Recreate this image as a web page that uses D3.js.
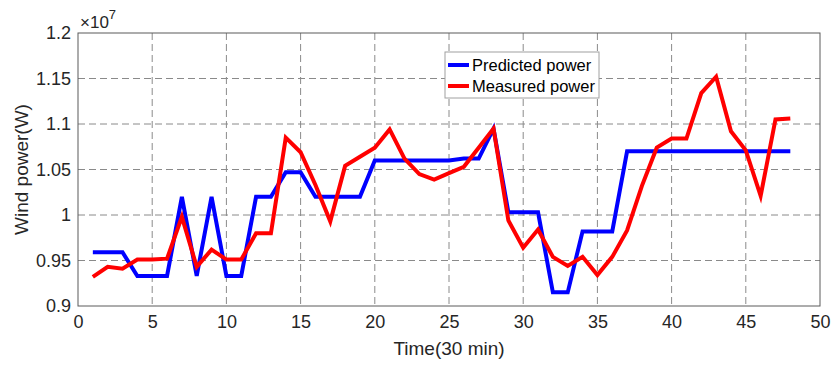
<!DOCTYPE html>
<html>
<head>
<meta charset="utf-8">
<script src="https://cdn.jsdelivr.net/npm/d3@7"></script>
<style>
  html, body { margin: 0; padding: 0; background: #fff; }
  svg { display: block; font-family: "Liberation Sans", Arial, sans-serif; }
</style>
</head>
<body>
<svg id="chart" width="833" height="365"></svg>
<script>
// Time steps (30 min each)
const timeSteps = d3.range(1, 49);

// Power in units of 10^7 W
const predictedPower = [
  0.959, 0.959, 0.959, 0.933, 0.933, 0.933, 1.020, 0.933, 1.020, 0.933,
  0.933, 1.020, 1.020, 1.047, 1.047, 1.020, 1.020, 1.020, 1.020, 1.060,
  1.060, 1.060, 1.060, 1.060, 1.060, 1.062, 1.062, 1.095, 1.003, 1.003,
  1.003, 0.915, 0.915, 0.982, 0.982, 0.982, 1.070, 1.070, 1.070, 1.070,
  1.070, 1.070, 1.070, 1.070, 1.070, 1.070, 1.070, 1.070
];
const measuredPower = [
  0.932, 0.943, 0.941, 0.951, 0.951, 0.952, 0.998, 0.943, 0.962, 0.951,
  0.951, 0.980, 0.980, 1.085, 1.069, 1.033, 0.993, 1.054, 1.064, 1.074,
  1.094, 1.062, 1.045, 1.039, 1.046, 1.053, 1.074, 1.095, 0.994, 0.964,
  0.984, 0.954, 0.944, 0.954, 0.934, 0.954, 0.983, 1.032, 1.074, 1.084,
  1.084, 1.134, 1.152, 1.092, 1.071, 1.021, 1.105, 1.106
];

const xTicks = [0, 5, 10, 15, 20, 25, 30, 35, 40, 45, 50];
const yTicks = [0.9, 0.95, 1.0, 1.05, 1.1, 1.15, 1.2];
const yTickLabels = ["0.9", "0.95", "1", "1.05", "1.1", "1.15", "1.2"];
const seriesNames = ["Predicted power", "Measured power"];
const seriesColors = ["#0000ff", "#ff0000"];

const svg = d3.select("#chart");
const plotL = 78, plotR = 820, plotT = 33, plotB = 306;

const x = d3.scaleLinear().domain([0, 50]).range([plotL, plotR]);
const y = d3.scaleLinear().domain([0.9, 1.2]).range([plotB, plotT]);

// grid
const grid = svg.append("g")
  .attr("stroke", "#8a8a8a")
  .attr("stroke-width", 1)
  .attr("stroke-dasharray", "7,4");
grid.selectAll("line.v").data(xTicks.slice(1, -1)).join("line")
  .attr("class", "v")
  .attr("x1", d => x(d)).attr("x2", d => x(d))
  .attr("y1", plotT).attr("y2", plotB);
grid.selectAll("line.h").data(yTicks.slice(1, -1)).join("line")
  .attr("class", "h")
  .attr("x1", plotL).attr("x2", plotR)
  .attr("y1", d => y(d)).attr("y2", d => y(d));

// axes
const xAxis = d3.axisBottom(x).tickValues(xTicks).tickSize(0).tickPadding(9)
  .tickFormat(d3.format("d"));
const yAxis = d3.axisLeft(y).tickValues(yTicks).tickSize(0).tickPadding(7)
  .tickFormat((d, i) => yTickLabels[i]);

const gx = svg.append("g").attr("transform", `translate(0,${plotB})`).call(xAxis);
const gy = svg.append("g").attr("transform", `translate(${plotL},0)`).call(yAxis);
[gx, gy].forEach(g => {
  g.select(".domain").remove();
  g.selectAll("text").attr("font-size", 18).attr("fill", "#262626")
    .attr("font-family", "Liberation Sans, Arial, sans-serif");
});
gx.selectAll("text").attr("dy", "0.71em");

// frame
svg.append("rect")
  .attr("x", plotL).attr("y", plotT)
  .attr("width", plotR - plotL).attr("height", plotB - plotT)
  .attr("fill", "none").attr("stroke", "#5a5a5a").attr("stroke-width", 1);

// exponent
const expo = svg.append("text").attr("x", plotL + 2).attr("y", 28)
  .attr("font-size", 17).attr("fill", "#262626");
expo.append("tspan").text("×10");
expo.append("tspan").attr("dy", -9).attr("font-size", 13).text("7");

// data lines
const line = d3.line().x((d, i) => x(timeSteps[i])).y(d => y(d));
[predictedPower, measuredPower].forEach((vals, k) => {
  svg.append("path").datum(vals)
    .attr("fill", "none")
    .attr("stroke", seriesColors[k])
    .attr("stroke-width", 4)
    .attr("stroke-linejoin", "miter")
    .attr("d", line);
});

// axis titles
svg.append("text").attr("x", (plotL + plotR) / 2).attr("y", 355)
  .attr("text-anchor", "middle").attr("font-size", 19).attr("fill", "#262626")
  .text("Time(30 min)");
svg.append("text")
  .attr("transform", `translate(28,${(plotT + plotB) / 2}) rotate(-90)`)
  .attr("text-anchor", "middle").attr("font-size", 19).attr("fill", "#262626")
  .text("Wind power(W)");

// legend
const lg = svg.append("g");
lg.append("rect").attr("x", 445).attr("y", 52).attr("width", 154).attr("height", 46)
  .attr("fill", "#fff").attr("stroke", "#a0a0a0").attr("stroke-width", 1);
seriesNames.forEach((name, k) => {
  const yy = 65 + k * 21;
  lg.append("line").attr("x1", 448).attr("x2", 469)
    .attr("y1", yy).attr("y2", yy)
    .attr("stroke", seriesColors[k]).attr("stroke-width", 4);
  lg.append("text").attr("x", 472).attr("y", yy).attr("dy", "0.35em")
    .attr("font-size", 16.5).attr("fill", "#000").text(name);
});
</script>
</body>
</html>
